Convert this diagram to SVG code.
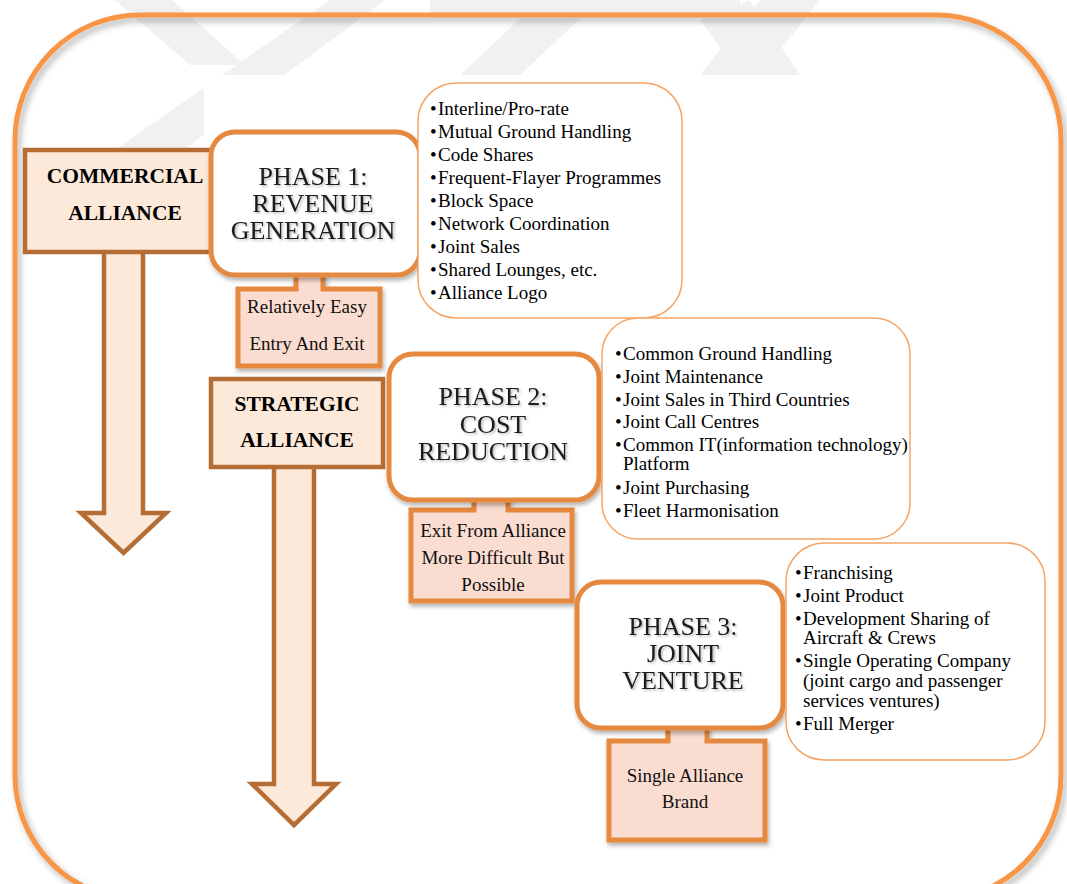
<svg xmlns="http://www.w3.org/2000/svg" width="1067" height="884" viewBox="0 0 1067 884">
<defs>
<style>
.wm{fill:#F1F1F1}
.frame{fill:none;stroke:#F79646;stroke-width:5}
.cat{fill:#FDE9D9;stroke:#B46D35;stroke-width:4.5}
.arrow{fill:#FDE9D9;stroke:#B46D35;stroke-width:4.5;stroke-linejoin:miter}
.phase{fill:#FFFFFF;stroke:#E5893F;stroke-width:5}
.note{fill:#FBDCD0;stroke:#E5893F;stroke-width:5}
.list{fill:#FFFFFF;stroke:#F5A464;stroke-width:1.5}
.catT{font-family:"Liberation Serif","Times New Roman",serif;font-weight:bold;font-size:21.5px;fill:#000;text-anchor:middle}
.phT{font-family:"Liberation Serif","Times New Roman",serif;font-size:26px;fill:#1a1a1a;text-anchor:middle}
.noteT{font-family:"Liberation Serif","Times New Roman",serif;font-size:19px;fill:#111;text-anchor:middle}
.li{font-family:"Liberation Serif","Times New Roman",serif;font-size:19px;fill:#000}
</style>
<filter id="fs" x="-10%" y="-10%" width="130%" height="130%">
<feDropShadow dx="3" dy="4" stdDeviation="3" flood-color="#000" flood-opacity="0.3"/>
</filter>
<filter id="bs" x="-10%" y="-10%" width="130%" height="130%">
<feDropShadow dx="1.5" dy="3" stdDeviation="2" flood-color="#000" flood-opacity="0.3"/>
</filter>
<filter id="ts" x="-10%" y="-20%" width="130%" height="150%">
<feDropShadow dx="1.5" dy="1.5" stdDeviation="1" flood-color="#000" flood-opacity="0.3"/>
</filter>
<clipPath id="wmclip">
<path d="M0,0 H1067 V75 H204 V884 H0 Z"/>
</clipPath>
</defs>
<rect width="1067" height="884" fill="#FFFFFF"/>
<g id="watermark" clip-path="url(#wmclip)">
<polygon class="wm" points="115,0 172,0 245,65 190,65"/>
<polygon class="wm" points="330,0 385,0 170,160 100,160"/>
<polygon class="wm" points="430,0 740,0 740,18 430,18"/>
<polygon class="wm" points="540,0 600,0 520,75 460,75"/>
<polygon class="wm" points="760,0 820,0 760,75 700,75"/>
<polygon class="wm" points="700,20 750,0 800,75 740,75"/>
</g>
<g id="frame">
<rect class="frame" x="15" y="15" width="1046" height="885" rx="125" ry="125" filter="url(#fs)"/>
</g>
<g id="connectors">
<path id="arrow-commercial" class="arrow" d="M104,252 V513 H81 L123.5,553 L166,513 H143 V252"/>
<path id="arrow-strategic" class="arrow" d="M274,467 V784 H252 L294,825 L336,784 H314 V467"/>
</g>
<g id="commercial">
<rect class="cat" x="25" y="150" width="202" height="102"/>
<text class="catT" x="125" y="183">COMMERCIAL</text>
<text class="catT" x="125" y="220">ALLIANCE</text>
</g>
<g id="strategic">
<rect class="cat" x="211" y="379" width="172" height="88"/>
<text class="catT" x="297" y="411">STRATEGIC</text>
<text class="catT" x="297" y="447">ALLIANCE</text>
</g>
<g id="note1">
<path class="note" filter="url(#bs)" d="M296,272 V289 H238 V366 H380 V289 H323 V272"/>
<text class="noteT" x="307" y="313">Relatively Easy</text>
<text class="noteT" x="307" y="350">Entry And Exit</text>
</g>
<g id="phase1">
<rect class="phase" filter="url(#bs)" x="211" y="132" width="209" height="143" rx="24"/>
<text class="phT" filter="url(#ts)" x="313" y="185">PHASE 1:</text>
<text class="phT" filter="url(#ts)" x="313" y="212">REVENUE</text>
<text class="phT" filter="url(#ts)" x="313" y="239">GENERATION</text>
</g>
<g id="note2">
<path class="note" filter="url(#bs)" d="M474,497 V510 H411 V601 H572 V510 H508 V497"/>
<text class="noteT" x="493" y="537">Exit From Alliance</text>
<text class="noteT" x="493" y="564">More Difficult But</text>
<text class="noteT" x="493" y="591">Possible</text>
</g>
<g id="phase2">
<rect class="phase" filter="url(#bs)" x="389" y="354" width="210" height="146" rx="24"/>
<text class="phT" filter="url(#ts)" x="493" y="405">PHASE 2:</text>
<text class="phT" filter="url(#ts)" x="493" y="433">COST</text>
<text class="phT" filter="url(#ts)" x="493" y="460">REDUCTION</text>
</g>
<g id="note3">
<path class="note" filter="url(#bs)" d="M668,725 V741 H609 V840 H765 V741 H707 V725"/>
<text class="noteT" x="685" y="782">Single Alliance</text>
<text class="noteT" x="685" y="808">Brand</text>
</g>
<g id="phase3">
<rect class="phase" filter="url(#bs)" x="577" y="582" width="206" height="146" rx="24"/>
<text class="phT" filter="url(#ts)" x="683" y="635">PHASE 3:</text>
<text class="phT" filter="url(#ts)" x="683" y="662">JOINT</text>
<text class="phT" filter="url(#ts)" x="683" y="689">VENTURE</text>
</g>
<g id="list1">
<rect class="list" x="418" y="83" width="264" height="235" rx="38"/>
<g class="li">
<text x="430" y="115">•</text><text x="438" y="115">Interline/Pro-rate</text>
<text x="430" y="138">•</text><text x="438" y="138">Mutual Ground Handling</text>
<text x="430" y="161">•</text><text x="438" y="161">Code Shares</text>
<text x="430" y="184">•</text><text x="438" y="184">Frequent-Flayer Programmes</text>
<text x="430" y="207">•</text><text x="438" y="207">Block Space</text>
<text x="430" y="230">•</text><text x="438" y="230">Network Coordination</text>
<text x="430" y="253">•</text><text x="438" y="253">Joint Sales</text>
<text x="430" y="276">•</text><text x="438" y="276">Shared Lounges, etc.</text>
<text x="430" y="299">•</text><text x="438" y="299">Alliance Logo</text>
</g>
</g>
<g id="list2">
<rect class="list" x="602" y="318" width="308" height="221" rx="36"/>
<g class="li">
<text x="615" y="360">•</text><text x="623" y="360">Common Ground Handling</text>
<text x="615" y="383">•</text><text x="623" y="383">Joint Maintenance</text>
<text x="615" y="406">•</text><text x="623" y="406">Joint Sales in Third Countries</text>
<text x="615" y="428">•</text><text x="623" y="428">Joint Call Centres</text>
<text x="615" y="451">•</text><text x="623" y="451">Common IT(information technology)</text>
<text x="623" y="470">Platform</text>
<text x="615" y="494">•</text><text x="623" y="494">Joint Purchasing</text>
<text x="615" y="517">•</text><text x="623" y="517">Fleet Harmonisation</text>
</g>
</g>
<g id="list3">
<rect class="list" x="786" y="543" width="259" height="217" rx="38"/>
<g class="li">
<text x="795" y="579">•</text><text x="803" y="579">Franchising</text>
<text x="795" y="602">•</text><text x="803" y="602">Joint Product</text>
<text x="795" y="625">•</text><text x="803" y="625">Development Sharing of</text>
<text x="803" y="644">Aircraft &amp; Crews</text>
<text x="795" y="667">•</text><text x="803" y="667">Single Operating Company</text>
<text x="803" y="687">(joint cargo and passenger</text>
<text x="803" y="707">services ventures)</text>
<text x="795" y="730">•</text><text x="803" y="730">Full Merger</text>
</g>
</g>
</svg>
